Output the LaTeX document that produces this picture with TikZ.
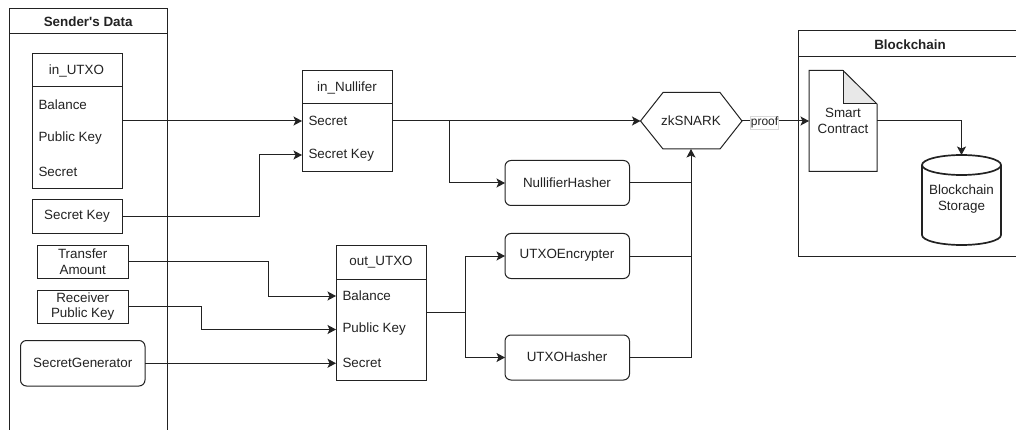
\documentclass[tikz,border=0pt]{standalone}
\usepackage{fontspec}
\setmainfont{Liberation Sans}
\usetikzlibrary{arrows.meta,calc,shapes.geometric}
\definecolor{ln}{HTML}{222222}
\tikzset{
  x=1pt,y=-1pt,
  every node/.style={font=\fontsize{13.4}{15.5}\selectfont,text=ln,inner sep=0pt,outer sep=0pt},
  boxstyle/.style={draw=ln,line width=1pt,rectangle,minimum width=90pt,anchor=north west},
  roundbox/.style={draw=ln,line width=1pt,rectangle,rounded corners=6pt,anchor=north west,align=center},
  conn/.style={draw=ln,line width=1pt,-{Stealth[length=8.5pt,width=9pt,inset=2pt]}},
  plain/.style={draw=ln,line width=1pt},
}
\begin{document}
\begin{tikzpicture}
\useasboundingbox (0,0) rectangle (1016,430);
% Sender's Data swimlane
\coordinate (sTL) at (9.5,8.5);
\coordinate (sTR) at (167,8.5);
\coordinate (sBL) at (9.5,430);
\coordinate (sBR) at (167,430);
\draw[plain] (sBL) -- (sTL) -- (sTR) -- (sBR);
\draw[plain] (9.5,34) -- (167,34);
\node[font=\fontsize{13.4}{15}\selectfont\bfseries] (sender) at (88.2,21.8) {Sender\textquotesingle s Data};
% Blockchain swimlane
\draw[plain] (1016,31) -- (798,31) -- (798,256) -- (1016,256);
\draw[plain] (798,57) -- (1016,57);
\node[font=\fontsize{13.4}{15}\selectfont\bfseries] (chain) at (910,44.5) {Blockchain};
% in_UTXO
\node[boxstyle,minimum height=135pt] (inU) at (32,53.5) {};
\draw[plain] (32,87) -- (122,87);
\node (inUt) at (76.5,70.5) {in\_UTXO};
\node[anchor=west] (inUa) at (38.5,104.5) {Balance};
\node[anchor=west] (inUb) at (38.5,138.5) {Public Key};
\node[anchor=west] (inUc) at (38.5,172) {Secret};
\coordinate (inUout) at (122,121);
% Secret Key
\node[boxstyle,minimum height=33.5pt] (sk) at (32,200) {};
\node (skt) at (77,216.7) {Secret Key};
% Transfer
\node[boxstyle,minimum height=33.5pt,minimum width=90.5pt] (ta) at (37.5,245) {};
\node[align=center] (tat) at (82.7,261.7) {Transfer\\Amount};
\node[boxstyle,minimum height=33.5pt,minimum width=90.5pt] (rp) at (37.5,290) {};
\node[align=center] (rpt) at (82.7,306.7) {Receiver\\Public Key};
\node[roundbox,minimum width=124.5pt,minimum height=45.5pt] (sg) at (20.5,340.5) {};
\node (sgt) at (82.7,362.5) {SecretGenerator};
% in_Nullifer
\node[boxstyle,minimum height=101pt,minimum width=90.5pt] (nu) at (302,70.5) {};
\draw[plain] (302,104) -- (392.5,104);
\node (nut) at (347,87.5) {in\_Nullifer};
\node[anchor=west] (nua) at (308.5,121) {Secret};
\node[anchor=west] (nub) at (308.5,155) {Secret Key};
% out_UTXO
\node[boxstyle,minimum height=135pt,minimum width=90.5pt] (ou) at (336,245) {};
\draw[plain] (336,279) -- (426.5,279);
\node (out) at (381,262) {out\_UTXO};
\node[anchor=west] (oua) at (342.5,296) {Balance};
\node[anchor=west] (oub) at (342.5,329.5) {Public Key};
\node[anchor=west] (ouc) at (342.5,363.25) {Secret};
% Rounded processes
\node[roundbox,minimum width=124.5pt,minimum height=45pt] (nh) at (505,160.5) {};
\node (nht) at (567,182.5) {NullifierHasher};
\node[roundbox,minimum width=124.5pt,minimum height=45pt] (ue) at (505,233.5) {};
\node (uet) at (567,255.5) {UTXOEncrypter};
\node[roundbox,minimum width=124.5pt,minimum height=45pt] (uh) at (505,335) {};
\node (uht) at (567,357) {UTXOHasher};
% zkSNARK
\coordinate (zkW) at (640.5,121);
\coordinate (zkE) at (742,121);
\coordinate (zkS) at (691,149);
\draw[plain] (zkW) -- (663,92.5) -- (720,92.5) -- (zkE) -- (720,149) -- (663,149) -- cycle;
\node (zk) at (691,120.5) {zkSNARK};
% Smart contract
\coordinate (docE) at (877,121);
\coordinate (docW) at (809,121);
\fill[gray!18] (843,70.5) -- (877,104) -- (843,104) -- cycle;
\draw[plain] (809,70.5) -- (843,70.5) -- (877,104) -- (877,171.5) -- (809,171.5) -- cycle;
\draw[plain] (843,70.5) -- (843,104) -- (877,104);
\node[align=center] (sc) at (843,120.7) {Smart\\Contract};
% Cylinder
\coordinate (cyT) at (961.5,155);
\draw[draw=ln,line width=1.7pt] (922,165) -- (922,235) arc[x radius=39.5pt,y radius=10pt,start angle=180,end angle=360] -- (1001,165) arc[x radius=39.5pt,y radius=10pt,start angle=0,end angle=180] arc[x radius=39.5pt,y radius=10pt,start angle=180,end angle=360];
\node[align=center] (bs) at (961.5,199) {Blockchain\\Storage};
% Connectors
\draw[conn] (inUout) -- (nu.west |- nua);
\draw[conn] (sk.east) -- (259,216.75) |- (nu.west |- nub);
\draw[conn] (ta.east) -- (268.5,261.75) |- (ou.west |- oua);
\draw[conn] (rp.east) -- (201,306.75) |- (ou.west |- oub);
\draw[conn] (sg.east) -- (ou.west |- sg.east);
\coordinate (nuout) at (392.5,121);
\draw[conn] (nuout) -- (zkW);
\draw[conn] (449,121) |- (nh.west);
\coordinate (ouout) at (426.5,312.5);
\draw[plain] (ouout) -- (465.5,312.5);
\draw[conn] (465.5,312.5) |- (ue.west);
\draw[conn] (465.5,312.5) |- (uh.west);
\draw[conn] (uh.east) -| (zkS);
\draw[plain] (nh.east) -- (691,183);
\draw[plain] (ue.east) -- (691,256);
\draw[conn] (zkE) -- (docW);
\node[draw=gray!30,fill=white,line width=0.4pt,font=\fontsize{12}{13}\selectfont,inner xsep=0.5pt,inner ysep=1pt] (pf) at (764.5,122.5) {proof};
\draw[conn] (docE) -| (cyT);
\end{tikzpicture}
\end{document}
